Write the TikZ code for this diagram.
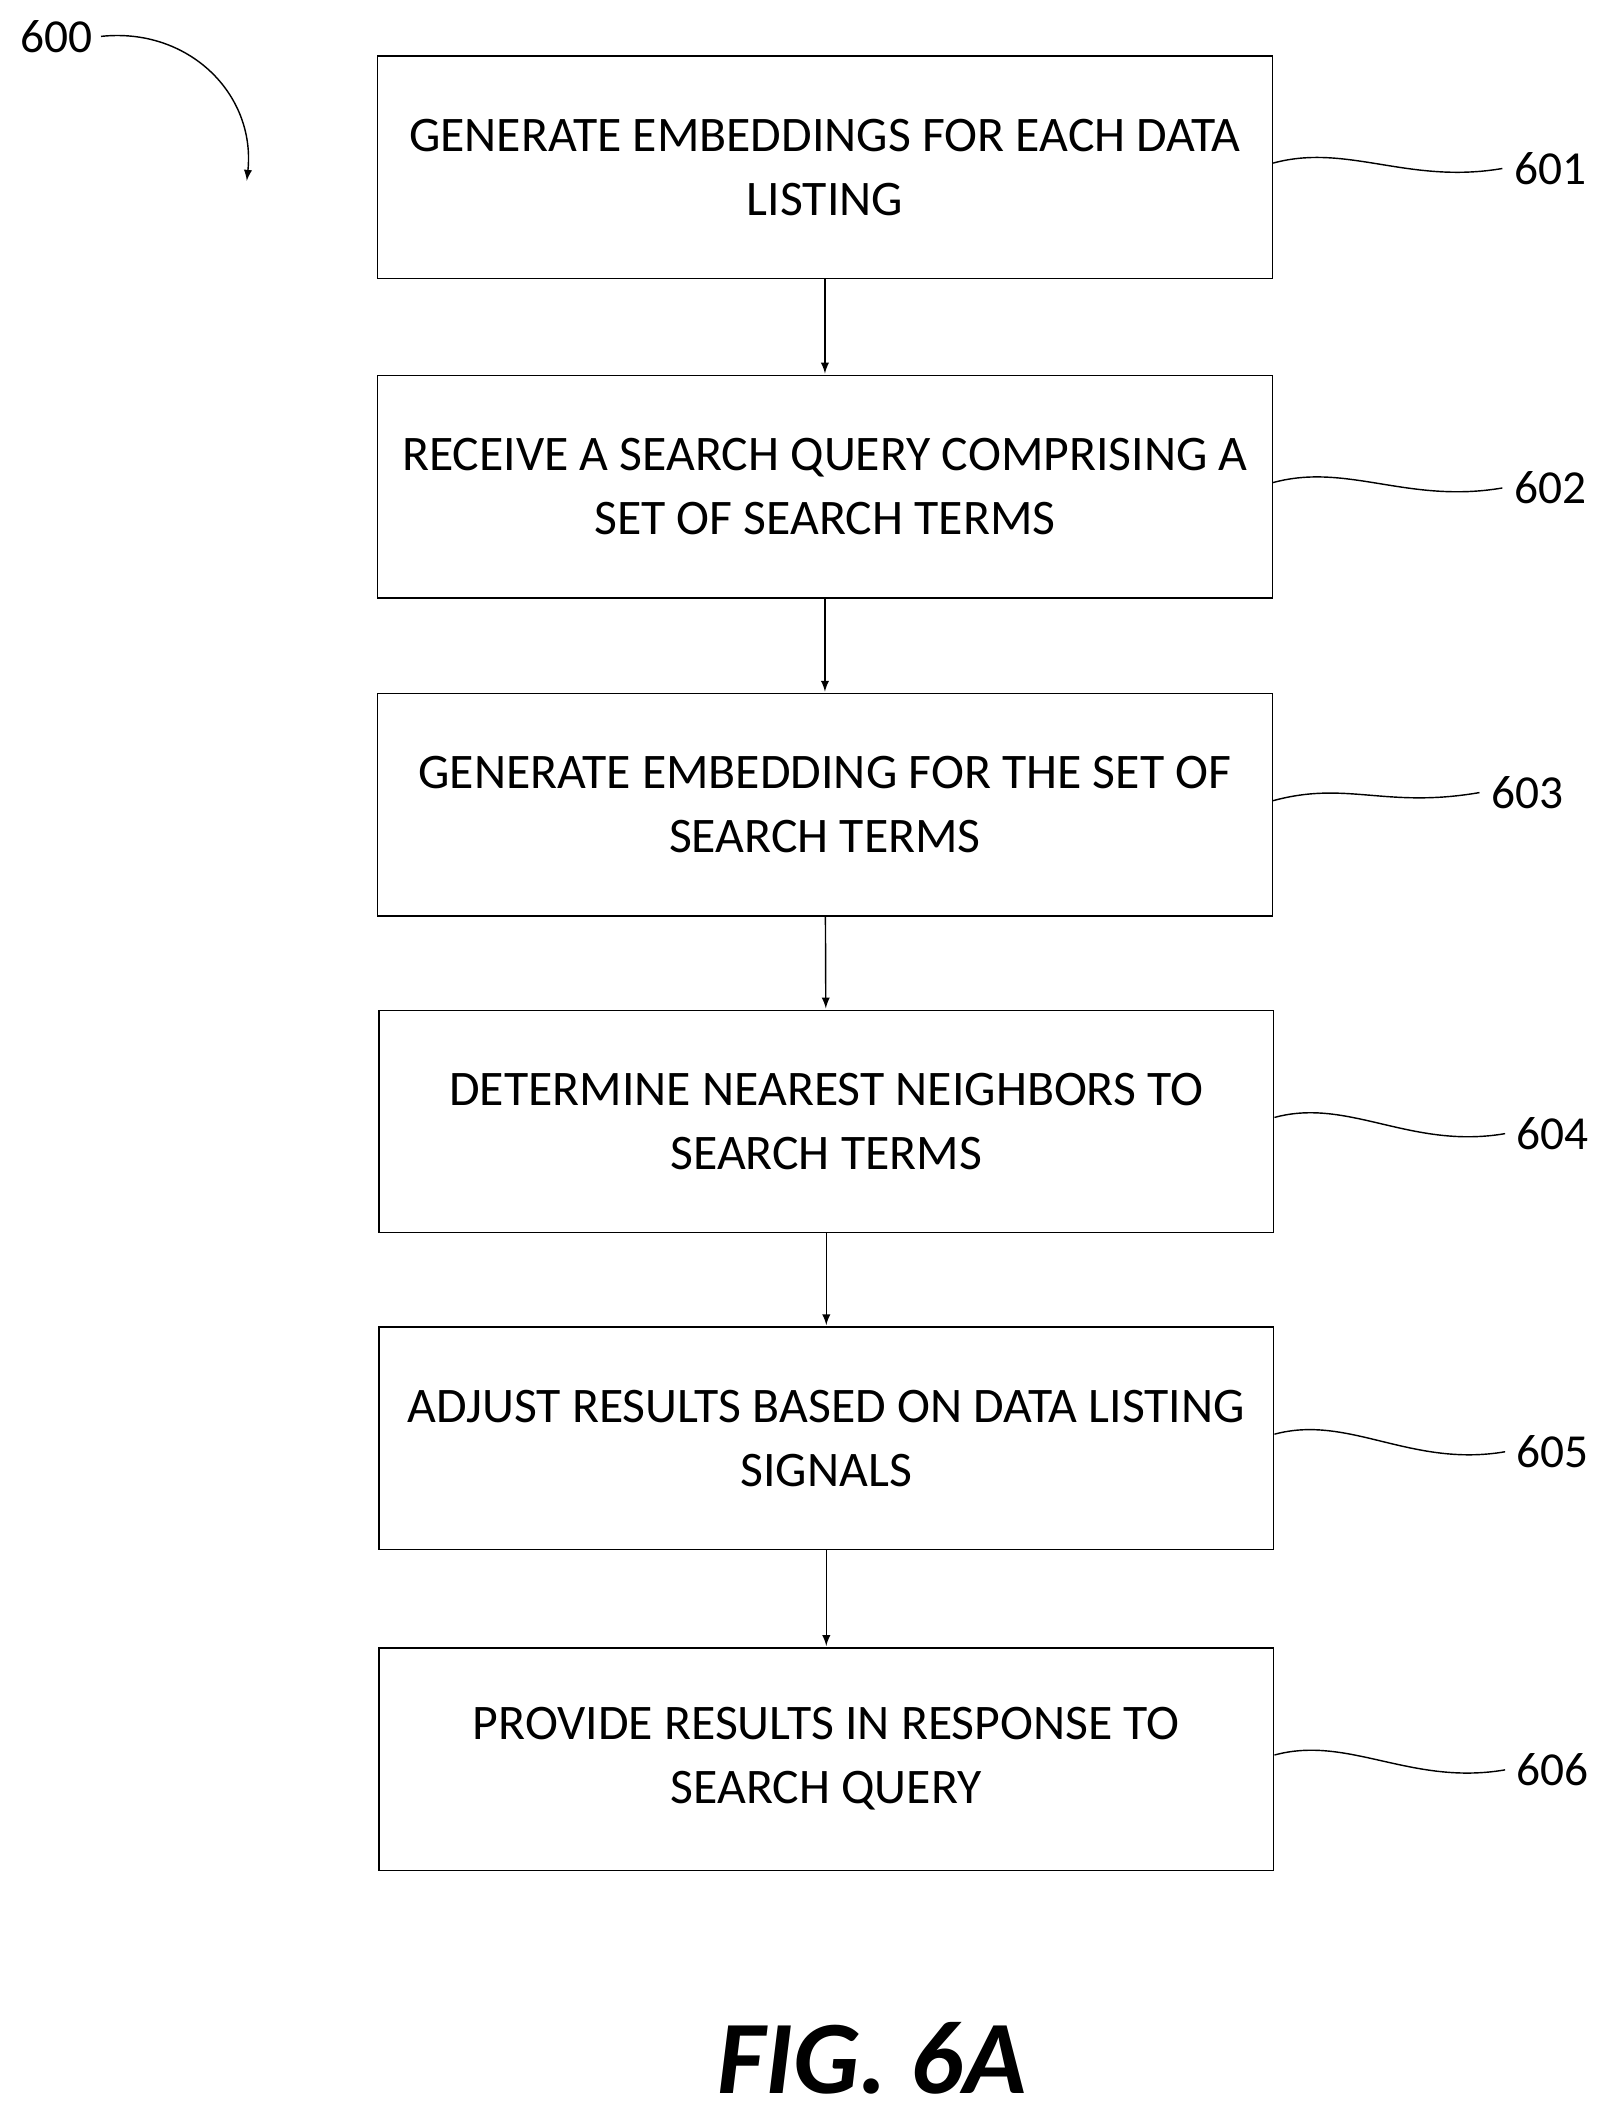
\documentclass[tikz,border=0pt]{standalone}
\usepackage{fontspec}
\setmainfont{Carlito}
\usetikzlibrary{positioning}
\begin{document}
\begin{tikzpicture}[x=0.02cm,y=-0.02cm,
    box/.style={draw,semithick,minimum width=13.28cm,minimum height=3.3cm,align=center,font=\fontsize{21}{27}\selectfont,inner sep=0pt},
    ref/.style={font=\fontsize{20}{22}\selectfont},
    flow/.style={->,>=latex,semithick,shorten >=0.5pt},
    tag/.style={semithick}]
\useasboundingbox (0,0) rectangle (1200,1575);
% steps
\node[box] (s1) at (612,124) {GENERATE EMBEDDINGS FOR EACH DATA\\LISTING};
\node[box] (s2) at (612,361) {RECEIVE A SEARCH QUERY COMPRISING A\\SET OF SEARCH TERMS};
\node[box] (s3) at (612,597) {GENERATE EMBEDDING FOR THE SET OF\\SEARCH TERMS};
\node[box] (s4) at (613,832) {DETERMINE NEAREST NEIGHBORS TO\\SEARCH TERMS};
\node[box] (s5) at (613,1067) {ADJUST RESULTS BASED ON DATA LISTING\\SIGNALS};
\node[box] (s6) at (613,1305) {PROVIDE RESULTS IN RESPONSE TO\\SEARCH QUERY};
% arrows
\draw[flow] (s1) -- (s2);
\draw[flow] (s2) -- (s3);
\draw[flow] (s3) -- (s4);
\draw[flow] (s4) -- (s5);
\draw[flow] (s5) -- (s6);
% reference numerals
\node[ref] (r1) at (1150,125) {601};
\node[ref] (r2) at (1150,362) {602};
\node[ref] (r3) at (1133,588) {603};
\node[ref] (r4) at (1152,841) {604};
\node[ref] (r5) at (1152,1077) {605};
\node[ref] (r6) at (1152,1313) {606};
\foreach \i in {1,2,3,4,5,6}
  \draw[tag] ([yshift=0.06cm]s\i.east) .. controls +(55,-15) and +(-70,12) .. ([xshift=-0.05cm]r\i.west);
% figure number
\node[ref] (fig) at (42,27) {600};
\draw[flow] (fig.east) .. controls (140,20) and (190,70) .. (183,135);
\node[font=\fontsize{44}{48}\selectfont\bfseries\itshape] (title) at (647,1527) {FIG. 6A};
\end{tikzpicture}
\end{document}
